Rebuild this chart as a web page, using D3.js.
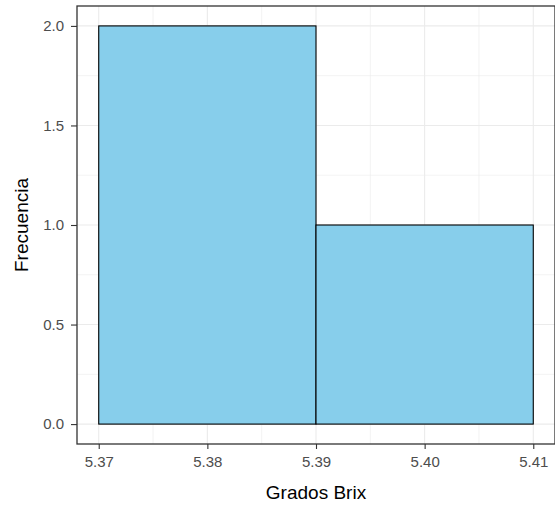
<!DOCTYPE html>
<html>
<head>
<meta charset="utf-8">
<script src="https://cdn.jsdelivr.net/npm/d3@7"></script>
<style>
body { margin: 0; background: #fff; }
text { font-family: "Liberation Sans", Arial, sans-serif; }
</style>
</head>
<body>
<script>
// histogram bins (Grados Brix) and counts
var binStart = [5.37, 5.39];
var binEnd = [5.39, 5.41];
var counts = [2, 1];
var xTicks = [5.37, 5.38, 5.39, 5.40, 5.41];
var yTicks = [0, 0.5, 1, 1.5, 2];

var width = 555, height = 510;
var pLeft = 77, pRight = 555, pTop = 6, pBottom = 444;

var svg = d3.select("body").append("svg")
    .attr("width", width)
    .attr("height", height);

var x = d3.scaleLinear()
    .domain([5.37 - 0.002, 5.41 + 0.002])
    .range([pLeft, pRight]);

var y = d3.scaleLinear()
    .domain([-0.1, 2.1])
    .range([pBottom, pTop]);

// grid
var minorX = [5.375, 5.385, 5.395, 5.405];
var minorY = [0.25, 0.75, 1.25, 1.75];

svg.selectAll(".minx").data(minorX).enter().append("line")
    .attr("x1", d => x(d)).attr("x2", d => x(d))
    .attr("y1", pTop).attr("y2", pBottom)
    .attr("stroke", "#ebebeb").attr("stroke-width", 0.6);
svg.selectAll(".miny").data(minorY).enter().append("line")
    .attr("y1", d => y(d)).attr("y2", d => y(d))
    .attr("x1", pLeft).attr("x2", pRight)
    .attr("stroke", "#ebebeb").attr("stroke-width", 0.6);
svg.selectAll(".majx").data(xTicks).enter().append("line")
    .attr("x1", d => x(d)).attr("x2", d => x(d))
    .attr("y1", pTop).attr("y2", pBottom)
    .attr("stroke", "#ebebeb").attr("stroke-width", 1.1);
svg.selectAll(".majy").data(yTicks).enter().append("line")
    .attr("y1", d => y(d)).attr("y2", d => y(d))
    .attr("x1", pLeft).attr("x2", pRight)
    .attr("stroke", "#ebebeb").attr("stroke-width", 1.1);

// bars
svg.selectAll(".bar").data(counts).enter().append("rect")
    .attr("x", (d, i) => x(binStart[i]))
    .attr("width", (d, i) => x(binEnd[i]) - x(binStart[i]))
    .attr("y", d => y(d))
    .attr("height", d => y(0) - y(d))
    .attr("fill", "#87ceeb")
    .attr("stroke", "#000")
    .attr("stroke-width", 1.1);

// panel border
svg.append("rect")
    .attr("x", pLeft).attr("y", pTop)
    .attr("width", pRight - pLeft).attr("height", pBottom - pTop)
    .attr("fill", "none").attr("stroke", "#333").attr("stroke-width", 1.3);

// axes
var xAxis = svg.append("g")
    .attr("transform", "translate(0," + pBottom + ")")
    .call(d3.axisBottom(x).tickValues(xTicks).tickFormat(d3.format(".2f")).tickSize(5).tickPadding(7));
var yAxis = svg.append("g")
    .attr("transform", "translate(" + pLeft + ",0)")
    .call(d3.axisLeft(y).tickValues(yTicks).tickFormat(d3.format(".1f")).tickSize(6).tickPadding(7));

[xAxis, yAxis].forEach(function (a) {
    a.select(".domain").remove();
    a.selectAll("line").attr("stroke", "#333").attr("stroke-width", 1.1);
    a.selectAll("text").attr("fill", "#4d4d4d").style("font-size", "15px")
        .style("font-family", "'Liberation Sans', Arial, sans-serif");
});

svg.append("text")
    .attr("x", (pLeft + pRight) / 2).attr("y", 499)
    .attr("text-anchor", "middle")
    .style("font-size", "19px")
    .text("Grados Brix");

svg.append("text")
    .attr("transform", "translate(28," + ((pTop + pBottom) / 2) + ") rotate(-90)")
    .attr("text-anchor", "middle")
    .style("font-size", "19px")
    .text("Frecuencia");
</script>
</body>
</html>
